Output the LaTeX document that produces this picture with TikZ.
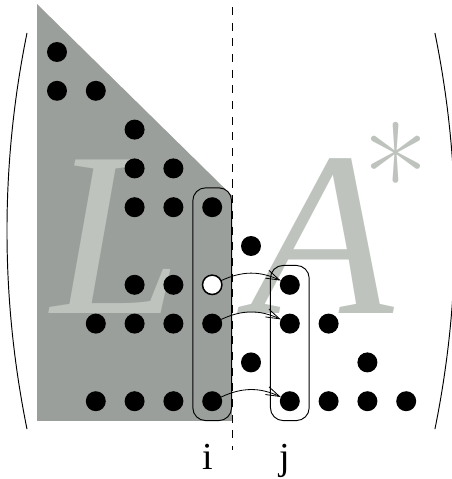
\documentclass[tikz,border=0pt]{standalone}
\usepackage{fontspec}
\setmainfont{Liberation Serif}
\newfontfamily\lmfont{Latin Modern Roman}
\usetikzlibrary{arrows.meta,fit}

\definecolor{grisL}{RGB}{155,159,155}
\definecolor{grisclair}{RGB}{190,195,190}

\tikzset{dot/.style={circle, fill=black, inner sep=0pt, outer sep=0pt, minimum size=5.15mm}}
\tikzset{wdot/.style={circle, draw=black, fill=white, line width=1.1pt, inner sep=0pt, outer sep=0pt, minimum size=5mm}}
\tikzset{colbox/.style={draw, rounded corners=3.3mm, inner sep=2.42mm, line width=0.7pt}}
\tikzset{fleche/.style={-{Straight Barb[length=3.5mm,width=2.2mm]}, line width=0.6pt, bend left=25}}
\tikzset{lettre/.style={text=grisclair, inner sep=0pt, font=\fontsize{172}{172}\selectfont\itshape}}
\tikzset{etiq/.style={inner sep=0pt, anchor=base, font=\fontsize{28}{30}\selectfont}}

\begin{document}
\begin{tikzpicture}
    \useasboundingbox (-0.469,0.340) rectangle (11.155,-12.005);

    % La partie triangulaire (L)
    \fill[grisL] (0.485,0.237) -- (5.51,-4.70) -- (5.51,-10.51) -- (0.485,-10.51) -- cycle;

    % Les grandes lettres
    \node[lettre, anchor=base west] (bigL) at (0.85,-7.727) {L};
    \node[lettre, anchor=base west] (bigA) at (5.97,-7.727) {A};
    \node[text=grisclair, inner sep=0pt, anchor=base, font=\fontsize{104}{104}\lmfont] (star) at (9.74,-5.56) {*};

    % La coupure
    \coordinate (haut) at (5.51,0.16);
    \coordinate (bas) at (5.51,-11.26);
    \draw[line width=0.7pt, dash pattern=on 5.9pt off 5.6pt] (haut) -- (bas);

    % Les parentheses
    \draw[line width=0.7pt] (0.227,-0.51) .. controls (-0.461,-3.9) and (-0.461,-7.32) .. (0.227,-10.72);
    \draw[line width=0.7pt] (10.74,-0.51) .. controls (11.43,-3.9) and (11.43,-7.32) .. (10.74,-10.72);

    % Les points
    \node[dot] (p1-1) at (1,-1) {};
    \node[dot] (p2-1) at (1,-2) {};
    \node[dot] (p2-2) at (2,-2) {};
    \node[dot] (p3-3) at (3,-3) {};
    \node[dot] (p4-3) at (3,-4) {};
    \node[dot] (p4-4) at (4,-4) {};
    \node[dot] (p5-3) at (3,-5) {};
    \node[dot] (p5-4) at (4,-5) {};
    \node[dot] (p5-5) at (5,-5) {};
    \node[dot] (p6-6) at (6,-6) {};
    \node[dot] (p7-3) at (3,-7) {};
    \node[dot] (p7-4) at (4,-7) {};
    \node[wdot] (p7-5) at (5,-7) {};
    \node[dot] (p7-7) at (7,-7) {};
    \node[dot] (p8-2) at (2,-8) {};
    \node[dot] (p8-3) at (3,-8) {};
    \node[dot] (p8-4) at (4,-8) {};
    \node[dot] (p8-5) at (5,-8) {};
    \node[dot] (p8-7) at (7,-8) {};
    \node[dot] (p8-8) at (8,-8) {};
    \node[dot] (p9-6) at (6,-9) {};
    \node[dot] (p9-9) at (9,-9) {};
    \node[dot] (p10-2) at (2,-10) {};
    \node[dot] (p10-3) at (3,-10) {};
    \node[dot] (p10-4) at (4,-10) {};
    \node[dot] (p10-5) at (5,-10) {};
    \node[dot] (p10-7) at (7,-10) {};
    \node[dot] (p10-8) at (8,-10) {};
    \node[dot] (p10-9) at (9,-10) {};
    \node[dot] (p10-10) at (10,-10) {};

    % Les colonnes i et j
    \node[colbox, fit=(p5-5)(p10-5)] (coli) {};
    \node[colbox, fit=(p7-7)(p10-7)] (colj) {};

    % Les mises a jour
    \draw[fleche] (p7-5) to (p7-7);
    \draw[fleche] (p8-5) to (p8-7);
    \draw[fleche] (p10-5) to (p10-7);

    % Labels
    \node[etiq] (li) at (4.89,-11.75) {i};
    \node[etiq] (lj) at (6.88,-11.75) {j};
\end{tikzpicture}
\end{document}
